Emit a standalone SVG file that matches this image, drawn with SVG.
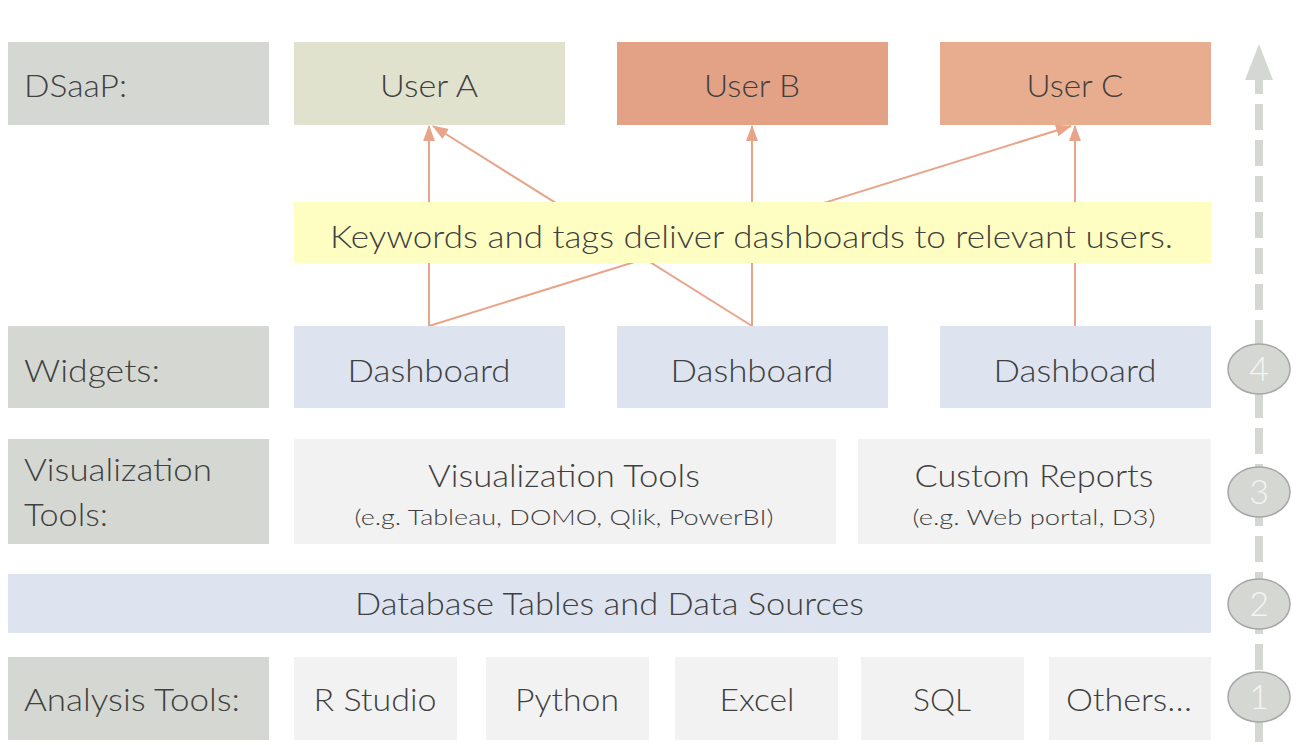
<svg xmlns="http://www.w3.org/2000/svg" width="1302" height="745" viewBox="0 0 1302 745">
<style>
text{font-family:Lato,"Open Sans","Liberation Sans",sans-serif;font-weight:300;fill:#404040;font-size:32px}
.c{text-anchor:middle}
.s{font-size:22px}
.lab{fill:#D5D8D2}
.gray{fill:#F2F2F2}
.blue{fill:#DDE4F0}
.conn{stroke:#E8A488;stroke-width:2;fill:none;marker-end:url(#ah)}
.num{fill:#F4F4F4;font-size:34px;text-anchor:middle}
.step{fill:#D5D8D2;stroke:#A6A6A6;stroke-width:1.5}
</style>
<defs>
<marker id="ah" markerWidth="16" markerHeight="14" refX="15" refY="7" orient="auto" markerUnits="userSpaceOnUse">
<path d="M0,1 L16,7 L0,13 Z" fill="#E8A488"/>
</marker>
</defs>
<rect width="1302" height="745" fill="#FFFFFF"/>

<g id="progress">
<line x1="1259" y1="742" x2="1259" y2="80" stroke="#D5D8D2" stroke-width="8" stroke-dasharray="26,10"/>
<polygon points="1259,44 1273,80 1245,80" fill="#D5D8D2"/>
</g>

<g id="row-dsaap">
<rect class="lab" x="8" y="42" width="261" height="83"/>
<text x="24" y="97" textLength="103" lengthAdjust="spacingAndGlyphs">DSaaP:</text>
</g>
<g id="userA">
<rect x="294" y="42" width="271" height="83" fill="#E1E2CE"/>
<text class="c" x="429" y="97" textLength="98" lengthAdjust="spacingAndGlyphs">User A</text>
</g>
<g id="userB">
<rect x="617" y="42" width="271" height="83" fill="#E3A286"/>
<text class="c" x="752" y="97" textLength="96" lengthAdjust="spacingAndGlyphs">User B</text>
</g>
<g id="userC">
<rect x="940" y="42" width="271" height="83" fill="#E8AD8F"/>
<text class="c" x="1075" y="97" textLength="97" lengthAdjust="spacingAndGlyphs">User C</text>
</g>

<g id="connectors">
<line class="conn" x1="429" y1="326" x2="429" y2="126"/>
<line class="conn" x1="429" y1="326" x2="1071" y2="126"/>
<line class="conn" x1="752" y1="326" x2="433" y2="126"/>
<line class="conn" x1="752" y1="326" x2="752" y2="126"/>
<line class="conn" x1="1075" y1="326" x2="1075" y2="126"/>
</g>

<g id="banner">
<rect x="294" y="202" width="917" height="61" fill="#FEFEC2"/>
<text x="330" y="248" textLength="843" lengthAdjust="spacingAndGlyphs">Keywords and tags deliver dashboards to relevant users.</text>
</g>

<g id="row-widgets">
<rect class="lab" x="8" y="326" width="261" height="82"/>
<text x="24" y="382" textLength="136" lengthAdjust="spacingAndGlyphs">Widgets:</text>
</g>
<g id="dash1">
<rect class="blue" x="294" y="326" width="271" height="82"/>
<text class="c" x="429" y="382" textLength="163" lengthAdjust="spacingAndGlyphs">Dashboard</text>
</g>
<g id="dash2">
<rect class="blue" x="617" y="326" width="271" height="82"/>
<text class="c" x="752" y="382" textLength="163" lengthAdjust="spacingAndGlyphs">Dashboard</text>
</g>
<g id="dash3">
<rect class="blue" x="940" y="326" width="271" height="82"/>
<text class="c" x="1075" y="382" textLength="163" lengthAdjust="spacingAndGlyphs">Dashboard</text>
</g>

<g id="row-viz">
<rect class="lab" x="8" y="439" width="261" height="105"/>
<text x="24" y="481" textLength="188" lengthAdjust="spacingAndGlyphs">Visualization</text>
<text x="24" y="526" textLength="84" lengthAdjust="spacingAndGlyphs">Tools:</text>
</g>
<g id="viztools">
<rect class="gray" x="294" y="439" width="542" height="105"/>
<text class="c" x="564" y="487" textLength="272" lengthAdjust="spacingAndGlyphs">Visualization Tools</text>
<text class="c s" x="564" y="525" textLength="419" lengthAdjust="spacingAndGlyphs">(e.g. Tableau, DOMO, Qlik, PowerBI)</text>
</g>
<g id="custom">
<rect class="gray" x="858" y="439" width="353" height="105"/>
<text class="c" x="1034" y="487" textLength="239" lengthAdjust="spacingAndGlyphs">Custom Reports</text>
<text class="c s" x="1034" y="525" textLength="243" lengthAdjust="spacingAndGlyphs">(e.g. Web portal, D3)</text>
</g>

<g id="database">
<rect class="blue" x="8" y="574" width="1203" height="59"/>
<text x="355" y="615" textLength="509" lengthAdjust="spacingAndGlyphs">Database Tables and Data Sources</text>
</g>

<g id="row-analysis">
<rect class="lab" x="8" y="657" width="261" height="83"/>
<text x="24" y="711" textLength="216" lengthAdjust="spacingAndGlyphs">Analysis Tools:</text>
</g>
<g id="rstudio">
<rect class="gray" x="294" y="657" width="163" height="83"/>
<text class="c" x="375" y="711" textLength="123" lengthAdjust="spacingAndGlyphs">R Studio</text>
</g>
<g id="python">
<rect class="gray" x="486" y="657" width="163" height="83"/>
<text class="c" x="567" y="711" textLength="104" lengthAdjust="spacingAndGlyphs">Python</text>
</g>
<g id="excel">
<rect class="gray" x="675" y="657" width="163" height="83"/>
<text class="c" x="757" y="711" textLength="75" lengthAdjust="spacingAndGlyphs">Excel</text>
</g>
<g id="sql">
<rect class="gray" x="861" y="657" width="163" height="83"/>
<text class="c" x="942" y="711" textLength="58" lengthAdjust="spacingAndGlyphs">SQL</text>
</g>
<g id="others">
<rect class="gray" x="1049" y="657" width="162" height="83"/>
<text class="c" x="1129" y="711" textLength="126" lengthAdjust="spacingAndGlyphs">Others…</text>
</g>

<g id="step4">
<ellipse class="step" cx="1259" cy="369" rx="31" ry="25"/>
<text class="num" x="1259" y="381">4</text>
</g>
<g id="step3">
<ellipse class="step" cx="1259" cy="492" rx="31" ry="25"/>
<text class="num" x="1259" y="504">3</text>
</g>
<g id="step2">
<ellipse class="step" cx="1259" cy="604" rx="31" ry="25"/>
<text class="num" x="1259" y="616">2</text>
</g>
<g id="step1">
<ellipse class="step" cx="1259" cy="697" rx="31" ry="25"/>
<text class="num" x="1259" y="709">1</text>
</g>
</svg>
